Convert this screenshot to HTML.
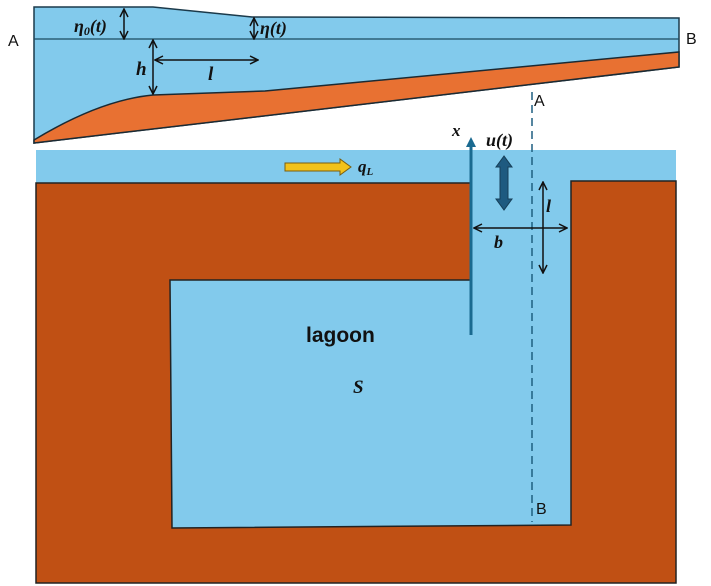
<!DOCTYPE html>
<html><head><style>body{margin:0;background:#fff}svg{display:block}</style></head><body>
<svg width="711" height="586" xmlns="http://www.w3.org/2000/svg" font-family="Liberation Serif, serif">
<defs>
<marker id="ar" markerWidth="10" markerHeight="10" refX="9" refY="5" orient="auto-start-reverse" markerUnits="userSpaceOnUse"><path d="M1,1 L9,5 L1,9" fill="none" stroke="#111" stroke-width="1.5"/></marker>
</defs>
<!-- top section -->
<polygon points="34,7 153,7 252,17 679,18 679,67 34,143" fill="#82caec" stroke="#1b3a4b" stroke-width="1.5"/>
<path d="M34,140 Q100,100 153,95 L265,91 L679,52 L679,67 L34,143 Z" fill="#e87132" stroke="#1b2a33" stroke-width="1.5"/>
<line x1="34" y1="39" x2="679" y2="39" stroke="#1b4a60" stroke-width="1.2"/>
<text x="8" y="46" font-family="Liberation Sans, sans-serif" font-size="16" fill="#111">A</text>
<text x="686" y="44" font-family="Liberation Sans, sans-serif" font-size="16" fill="#111">B</text>
<line x1="124" y1="9" x2="124" y2="39" stroke="#111" stroke-width="1.5" marker-start="url(#ar)" marker-end="url(#ar)"/>
<text x="74" y="32" font-size="18" font-weight="bold" font-style="italic" fill="#111">η<tspan font-size="12" dy="3">0</tspan><tspan dy="-3">(t)</tspan></text>
<line x1="254" y1="18" x2="254" y2="39" stroke="#111" stroke-width="1.5" marker-start="url(#ar)" marker-end="url(#ar)"/>
<text x="260" y="34" font-size="18" font-weight="bold" font-style="italic" fill="#111">η(t)</text>
<line x1="153" y1="40" x2="153" y2="94" stroke="#111" stroke-width="1.5" marker-start="url(#ar)" marker-end="url(#ar)"/>
<text x="136" y="75" font-size="19" font-weight="bold" font-style="italic" fill="#111">h</text>
<line x1="155" y1="60" x2="258" y2="60" stroke="#111" stroke-width="1.5" marker-start="url(#ar)" marker-end="url(#ar)"/>
<text x="208" y="80" font-size="19" font-weight="bold" font-style="italic" fill="#111">l</text>
<!-- bottom section -->
<rect x="36" y="150" width="640" height="433" fill="#82caec"/>
<polygon points="36,183 471,183 471,280 170,280 172,528 571,525 571,181 676,181 676,583 36,583" fill="#c05014" stroke="#222" stroke-width="1.5"/>
<line x1="532" y1="92" x2="532" y2="522" stroke="#1e5f80" stroke-width="1.5" stroke-dasharray="8,5"/>
<text x="534" y="106" font-family="Liberation Sans, sans-serif" font-size="16" fill="#111">A</text>
<text x="536" y="514" font-family="Liberation Sans, sans-serif" font-size="16" fill="#111">B</text>
<line x1="471" y1="335" x2="471" y2="146" stroke="#1a6a90" stroke-width="3"/>
<polygon points="466,147 471,137 476,147" fill="#1a6a90"/>
<text x="452" y="136" font-size="17" font-weight="bold" font-style="italic" fill="#111">x</text>
<text x="486" y="146" font-size="18" font-weight="bold" font-style="italic" fill="#111">u(t)</text>
<polygon points="504,156 496,167 500,167 500,199 496,199 504,210 512,199 508,199 508,167 512,167" fill="#1e5a80" stroke="#163e57" stroke-width="1"/>
<line x1="543" y1="182" x2="543" y2="273" stroke="#111" stroke-width="1.5" marker-start="url(#ar)" marker-end="url(#ar)"/>
<text x="546" y="212" font-size="18" font-weight="bold" font-style="italic" fill="#111">l</text>
<line x1="474" y1="228" x2="567" y2="228" stroke="#111" stroke-width="1.5" marker-start="url(#ar)" marker-end="url(#ar)"/>
<text x="494" y="248" font-size="18" font-weight="bold" font-style="italic" fill="#111">b</text>
<polygon points="285,163 340,163 340,159 351,167 340,175 340,171 285,171" fill="#f2c21a" stroke="#7a5e10" stroke-width="1"/>
<text x="358" y="172" font-size="17" font-weight="bold" font-style="italic" fill="#111">q<tspan font-size="11" dy="3">L</tspan></text>
<text x="306" y="342" font-family="Liberation Sans, sans-serif" font-size="21" font-weight="bold" fill="#111">lagoon</text>
<text x="353" y="393" font-size="19" font-weight="bold" font-style="italic" fill="#111">S</text>
</svg>
</body></html>
